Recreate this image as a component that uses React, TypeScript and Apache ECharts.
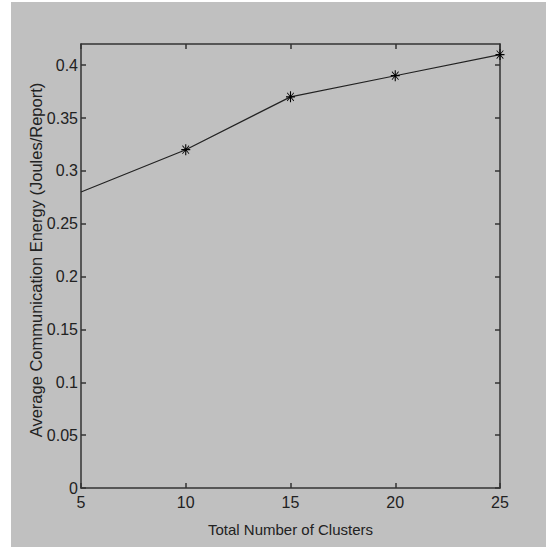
import React, { useEffect, useRef } from "react";
import * as echarts from "echarts";

const clusters = [5, 10, 15, 20, 25];
const energy = [0.28, 0.32, 0.37, 0.39, 0.41];
const yTicks = [0, 0.05, 0.1, 0.15, 0.2, 0.25, 0.3, 0.35, 0.4];
const xTicks = [5, 10, 15, 20, 25];
const xName = "Total Number of Clusters";
const yName = "Average Communication Energy (Joules/Report)";

const STAR =
  "path://M4.4 0H5.6V10H4.4Z M0 4.4H10V5.6H0Z M1.6 1L9 8.4L8.4 9L1 1.6Z M9 1.6L1.6 9L1 8.4L8.4 1Z";

export default function App() {
  const ref = useRef<HTMLDivElement>(null);
  useEffect(() => {
    if (!ref.current) return;
    const chart = echarts.init(ref.current, undefined, { renderer: "svg" });
    const tickFont = {
      fontFamily: "Liberation Sans Narrow, Liberation Sans, Arial",
      fontSize: 16,
      color: "#222",
    };
    const lineStyle = { color: "#333", width: 1.5 };
    const baseX = {
      type: "value" as const,
      min: 5,
      max: 25,
      interval: 5,
      splitLine: { show: false },
      axisLine: { show: true, onZero: false, lineStyle },
      axisTick: { show: true, inside: true, length: 5, lineStyle },
    };
    const baseY = {
      type: "value" as const,
      min: 0,
      max: 0.42,
      interval: 0.05,
      splitLine: { show: false },
      axisLine: { show: true, onZero: false, lineStyle },
      axisTick: { show: true, inside: true, length: 5, lineStyle },
    };
    chart.setOption({
      animation: false,
      backgroundColor: "#c0c0c0",
      grid: { left: 70, top: 42, right: 46, bottom: 59, containLabel: false },
      xAxis: [
        {
          ...baseX,
          position: "bottom",
          axisLabel: {
            ...tickFont,
            margin: 6,
            customValues: xTicks,
          },
          axisTick: { ...baseX.axisTick, customValues: xTicks },
          name: xName,
          nameLocation: "middle",
          nameGap: 34,
          nameMoveOverlap: false,
          nameTextStyle: {
            fontFamily: "Liberation Sans Narrow, Liberation Sans, Arial",
            fontSize: 15,
            color: "#222",
          },
        },
        {
          ...baseX,
          position: "top",
          axisLabel: { show: false },
          axisTick: { ...baseX.axisTick, customValues: xTicks },
        },
      ],
      yAxis: [
        {
          ...baseY,
          position: "left",
          axisLabel: {
            ...tickFont,
            margin: 3,
            customValues: yTicks,
            formatter: (v: number) => String(+v.toFixed(2)),
          },
          axisTick: { ...baseY.axisTick, customValues: yTicks },
          name: yName,
          nameLocation: "middle",
          nameGap: 37,
          nameMoveOverlap: false,
          nameTextStyle: {
            fontFamily: "Liberation Sans, Arial",
            fontSize: 16.5,
            color: "#222",
            padding: [0, 0, 0, 12],
          },
        },
        {
          ...baseY,
          position: "right",
          axisLabel: { show: false },
          axisTick: { ...baseY.axisTick, customValues: yTicks },
        },
      ],
      series: [
        {
          type: "line",
          xAxisIndex: 0,
          yAxisIndex: 0,
          data: clusters.map((c, i) =>
            i === 0
              ? { value: [c, energy[i]], symbol: "none" }
              : { value: [c, energy[i]] }
          ),
          symbol: STAR,
          symbolSize: [9, 11],
          showAllSymbol: true,
          clip: false,
          lineStyle: { color: "#222", width: 1.2 },
          itemStyle: { color: "#000" },
        },
      ],
    });
    return () => chart.dispose();
  }, []);
  return (
    <div
      style={{
        position: "fixed",
        left: 0,
        top: 0,
        width: 546,
        height: 547,
        background: "#fff",
      }}
    >
      <div
        ref={ref}
        style={{ position: "absolute", left: 11, top: 2, width: 535, height: 545 }}
      />
    </div>
  );
}
